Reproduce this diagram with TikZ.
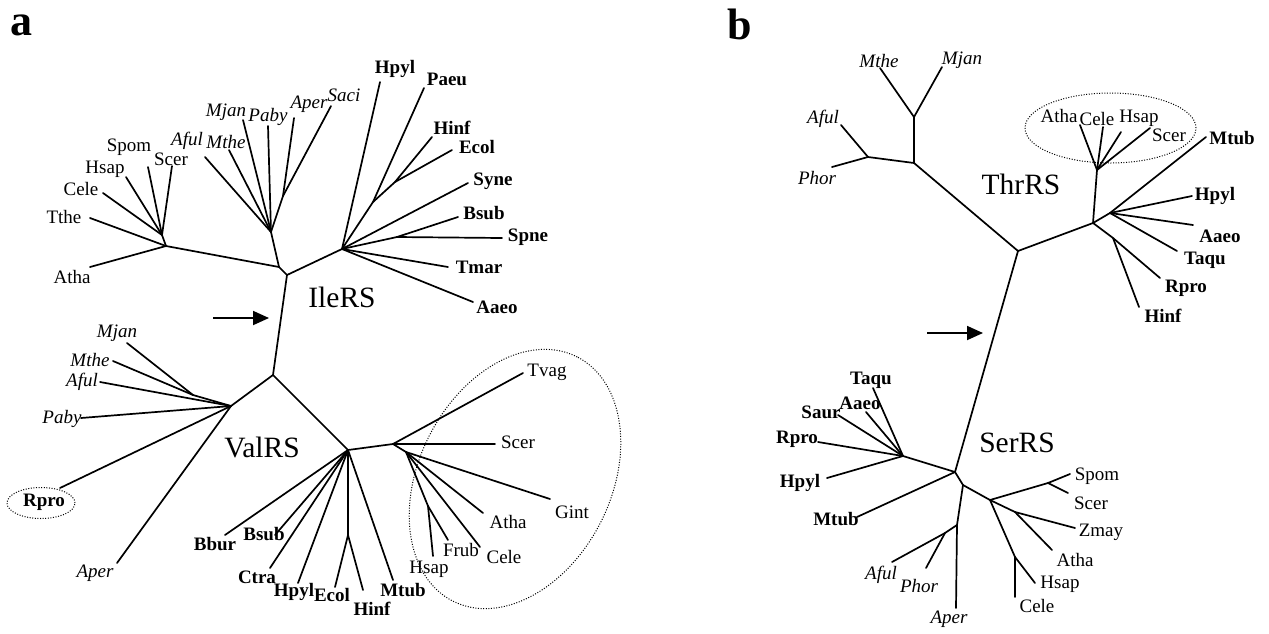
\documentclass[tikz,border=0pt]{standalone}
\usepackage{fontspec}
\setmainfont{Liberation Serif}
\usetikzlibrary{arrows.meta}
\begin{document}
\begin{tikzpicture}[x=1pt,y=-1pt,
  br/.style={line width=1.7pt, line cap=round, line join=round},
  tx/.style={inner sep=0pt, font=\fontsize{19}{21}\selectfont},
  bac/.style={inner sep=0pt, font=\fontsize{19}{21}\selectfont\bfseries},
  arc/.style={inner sep=0pt, font=\fontsize{19}{21}\selectfont\itshape},
  fam/.style={inner sep=0pt, font=\fontsize{29.5}{32}\selectfont},
  panel/.style={inner sep=0pt, font=\fontsize{44}{48}\selectfont\bfseries},
  grp/.style={line width=1pt, dash pattern=on 1pt off 1.6pt},
  pointer/.style={line width=1.8pt, -{Triangle[length=16pt,width=14pt]}}]
\useasboundingbox (0,0) rectangle (1269,633);

% ================= panel a =================
\node[panel] (pa) at (21,25) {a};

% ---- IleRS: internal nodes
\coordinate (iR) at (287,275);
\coordinate (iK) at (279,267);
\coordinate (iE) at (166,246);
\coordinate (iE2) at (162,235);
\coordinate (iA) at (271,232);
\coordinate (iA2) at (283,196);
\coordinate (iB) at (342,249);
\coordinate (iB1) at (373,202);
\coordinate (iB2) at (395,182);
\coordinate (iB3) at (397,237);
% ---- IleRS: tips
\coordinate (iAtha) at (90,267);
\coordinate (iTthe) at (90,218);
\coordinate (iCele) at (103,193);
\coordinate (iHsap) at (126,177);
\coordinate (iSpom) at (148,167);
\coordinate (iScer) at (172,166);
\coordinate (iAful) at (205,157);
\coordinate (iMthe) at (229,150);
\coordinate (iMjan) at (243,120);
\coordinate (iPaby) at (268,126);
\coordinate (iAper) at (294,118);
\coordinate (iSaci) at (331,106);
\coordinate (iHpyl) at (380,82);
\coordinate (iPaeu) at (424,88);
\coordinate (iHinf) at (432,137);
\coordinate (iEcol) at (452,150);
\coordinate (iSyne) at (468,183);
\coordinate (iBsub) at (458,217);
\coordinate (iSpne) at (502,238);
\coordinate (iTmar) at (448,267);
\coordinate (iAaeo) at (473,302);

\draw[br] (iE) -- (iK) -- (iR) -- (iB);
\draw[br] (iA) -- (iK);
\draw[br] (iE) -- (iAtha);
\draw[br] (iE) -- (iTthe);
\draw[br] (iE) -- (iE2);
\foreach \t in {iCele,iHsap,iSpom,iScer} \draw[br] (iE2) -- (\t);
\foreach \t in {iAful,iMthe,iMjan,iPaby} \draw[br] (iA) -- (\t);
\draw[br] (iA) -- (iA2);
\foreach \t in {iAper,iSaci} \draw[br] (iA2) -- (\t);
\draw[br] (iB) -- (iHpyl);
\draw[br] (iB) -- (iB1) -- (iPaeu);
\draw[br] (iB1) -- (iB2);
\foreach \t in {iHinf,iEcol} \draw[br] (iB2) -- (\t);
\draw[br] (iB) -- (iSyne);
\draw[br] (iB) -- (iB3);
\foreach \t in {iBsub,iSpne} \draw[br] (iB3) -- (\t);
\draw[br] (iB) -- (iTmar);
\draw[br] (iB) -- (iAaeo);

\node[tx]  (lSpomA) at (129,147) {Spom};
\node[tx]  (lScerA) at (171,159) {Scer};
\node[tx]  (lHsapA) at (105,169) {Hsap};
\node[tx]  (lCeleA) at (81,189) {Cele};
\node[tx]  (lTtheA) at (64,217) {Tthe};
\node[tx]  (lAthaA) at (72,277) {Atha};
\node[arc] (lAfulA) at (187,141) {Aful};
\node[arc] (lMtheA) at (226,142) {Mthe};
\node[arc] (lMjanA) at (226,112) {Mjan};
\node[arc] (lPabyA) at (268,117) {Paby};
\node[arc] (lAperA) at (309,104) {Aper};
\node[arc] (lSaciA) at (344,95) {Saci};
\node[bac] (lHpylA) at (395,69) {Hpyl};
\node[bac] (lPaeuA) at (447,79) {Paeu};
\node[bac] (lHinfA) at (452,128) {Hinf};
\node[bac] (lEcolA) at (477,147) {Ecol};
\node[bac] (lSyneA) at (493,181) {Syne};
\node[bac] (lBsubA) at (484,213) {Bsub};
\node[bac] (lSpneA) at (528,237) {Spne};
\node[bac] (lTmarA) at (479,267) {Tmar};
\node[bac] (lAaeoA) at (497,307) {Aaeo};
\node[fam] (ile) at (342,297) {IleRS};

% ---- pointer to the root
\coordinate (aArS) at (213,318);
\coordinate (aArE) at (269,318);
\draw[pointer] (aArS) -- (aArE);

% ---- ValRS: internal nodes
\coordinate (vR) at (273,375);
\coordinate (vA) at (231,406);
\coordinate (vMM) at (193,395);
\coordinate (vB) at (348,450);
\coordinate (vE) at (393,444);
\coordinate (vE1) at (406,452);
\coordinate (vHF) at (428,506);
\coordinate (vEH) at (348,535);
% ---- ValRS: tips
\coordinate (vMjan) at (127,343);
\coordinate (vMthe) at (113,361);
\coordinate (vAful) at (100,382);
\coordinate (vPaby) at (81,418);
\coordinate (vRpro) at (60,488);
\coordinate (vAper) at (117,563);
\coordinate (vBbur) at (225,535);
\coordinate (vBsub) at (275,535);
\coordinate (vCtra) at (270,568);
\coordinate (vHpyl) at (298,583);
\coordinate (vEcol) at (335,587);
\coordinate (vHinf) at (363,590);
\coordinate (vMtub) at (393,580);
\coordinate (vTvag) at (523,373);
\coordinate (vScer) at (495,444);
\coordinate (vGint) at (550,499);
\coordinate (vAtha) at (483,513);
\coordinate (vCele) at (480,547);
\coordinate (vFrub) at (448,540);
\coordinate (vHsap) at (433,556);

\draw[br] (iR) -- (vR);
\draw[br] (vA) -- (vR) -- (vB) -- (vE);
\draw[br] (vA) -- (vMM);
\foreach \t in {vMjan,vMthe} \draw[br] (vMM) -- (\t);
\foreach \t in {vAful,vPaby,vRpro,vAper} \draw[br] (vA) -- (\t);
\foreach \t in {vBbur,vBsub,vCtra,vHpyl,vMtub} \draw[br] (vB) -- (\t);
\draw[br] (vB) -- (vEH);
\foreach \t in {vEcol,vHinf} \draw[br] (vEH) -- (\t);
\draw[br] (vE) -- (vTvag);
\draw[br] (vE) -- (vScer);
\draw[br] (vE) -- (vE1);
\foreach \t in {vGint,vAtha,vCele} \draw[br] (vE1) -- (\t);
\draw[br] (vE1) -- (vHF);
\foreach \t in {vFrub,vHsap} \draw[br] (vHF) -- (\t);

\node[arc] (lMjanV) at (117,333) {Mjan};
\node[arc] (lMtheV) at (90,360) {Mthe};
\node[arc] (lAfulV) at (82,382) {Aful};
\node[arc] (lPabyV) at (62,419) {Paby};
\node[bac] (lRproV) at (44,502) {Rpro};
\node[arc] (lAperV) at (95,573) {Aper};
\node[fam] (val) at (262,447) {ValRS};
\node[bac] (lBburV) at (215,544) {Bbur};
\node[bac] (lBsubV) at (264,534) {Bsub};
\node[bac] (lCtraV) at (257,577) {Ctra};
\node[bac] (lHpylV) at (294,592) {Hpyl};
\node[bac] (lEcolV) at (332,595) {Ecol};
\node[bac] (lHinfV) at (372,609) {Hinf};
\node[bac] (lMtubV) at (403,590) {Mtub};
\node[tx]  (lHsapV) at (429,569) {Hsap};
\node[tx]  (lFrubV) at (461,550) {Frub};
\node[tx]  (lCeleV) at (504,557) {Cele};
\node[tx]  (lAthaV) at (508,522) {Atha};
\node[tx]  (lGintV) at (572,512) {Gint};
\node[tx]  (lScerV) at (518,442) {Scer};
\node[tx]  (lTvagV) at (547,372) {Tvag};

% dotted groupings
\draw[grp] (41,503) ellipse [x radius=34pt, y radius=15.5pt];
\draw[grp, rotate around={63:(515,479)}] (515,479) ellipse [x radius=137pt, y radius=96pt];

% ================= panel b =================
\node[panel] (pb) at (740,24) {b};

% ---- ThrRS: internal nodes
\coordinate (tR) at (1018,251);
\coordinate (tA) at (914,163);
\coordinate (tA2) at (914,117);
\coordinate (tAP) at (868,157);
\coordinate (tEB) at (1093,223);
\coordinate (tE) at (1097,170);
\coordinate (tB) at (1110,213);
\coordinate (tH) at (1113,238);
% ---- ThrRS: tips
\coordinate (tMthe) at (880,68);
\coordinate (tMjan) at (942,67);
\coordinate (tAful) at (841,125);
\coordinate (tPhor) at (832,167);
\coordinate (tAtha) at (1080,125);
\coordinate (tCele) at (1103,127);
\coordinate (tHsap) at (1121,132);
\coordinate (tScer) at (1150,128);
\coordinate (tMtub) at (1206,137);
\coordinate (tHpyl) at (1192,196);
\coordinate (tAaeo) at (1193,225);
\coordinate (tTaqu) at (1177,251);
\coordinate (tRpro) at (1160,278);
\coordinate (tHinf) at (1139,307);

\draw[br] (tA) -- (tR) -- (tEB);
\draw[br] (tA) -- (tA2);
\foreach \t in {tMthe,tMjan} \draw[br] (tA2) -- (\t);
\draw[br] (tA) -- (tAP);
\foreach \t in {tAful,tPhor} \draw[br] (tAP) -- (\t);
\draw[br] (tEB) -- (tE);
\foreach \t in {tAtha,tCele,tHsap,tScer} \draw[br] (tE) -- (\t);
\draw[br] (tEB) -- (tB);
\foreach \t in {tMtub,tHpyl,tAaeo,tTaqu} \draw[br] (tB) -- (\t);
\draw[br] (tEB) -- (tH) -- (tRpro);
\draw[br] (tH) -- (tHinf);

\node[arc] (lMtheT) at (879,61) {Mthe};
\node[arc] (lMjanT) at (962,60) {Mjan};
\node[arc] (lAfulT) at (823,119) {Aful};
\node[arc] (lPhorT) at (817,178) {Phor};
\node[tx]  (lAthaT) at (1059,116) {Atha};
\node[tx]  (lCeleT) at (1097,119) {Cele};
\node[tx]  (lHsapT) at (1139,118) {Hsap};
\node[tx]  (lScerT) at (1169,135) {Scer};
\node[bac] (lMtubT) at (1232,138) {Mtub};
\node[bac] (lHpylT) at (1215,196) {Hpyl};
\node[bac] (lAaeoT) at (1220,236) {Aaeo};
\node[bac] (lTaquT) at (1205,260) {Taqu};
\node[bac] (lRproT) at (1186,288) {Rpro};
\node[bac] (lHinfT) at (1163,316) {Hinf};
\node[fam] (thr) at (1021,184) {ThrRS};
\draw[grp] (1110.5,128) ellipse [x radius=85.5pt, y radius=35pt];

% ---- pointer to the root
\coordinate (bArS) at (927,333);
\coordinate (bArE) at (983,333);
\draw[pointer] (bArS) -- (bArE);

% ---- SerRS: internal nodes
\coordinate (sR) at (955,472);
\coordinate (sB) at (903,456);
\coordinate (sK) at (963,485);
\coordinate (sAP) at (957,525);
\coordinate (sAF) at (945,533);
\coordinate (sE) at (990,500);
\coordinate (sSS) at (1048,483);
\coordinate (sZA) at (1015,512);
\coordinate (sHC) at (1015,557);
% ---- SerRS: tips
\coordinate (sTaqu) at (873,388);
\coordinate (sAaeo) at (866,412);
\coordinate (sSaur) at (838,415);
\coordinate (sRpro) at (818,442);
\coordinate (sHpyl) at (827,478);
\coordinate (sMtub) at (857,517);
\coordinate (sAful) at (892,562);
\coordinate (sPhor) at (926,568);
\coordinate (sAper) at (956,608);
\coordinate (sSpom) at (1070,474);
\coordinate (sScer) at (1068,493);
\coordinate (sZmay) at (1075,528);
\coordinate (sAtha) at (1052,550);
\coordinate (sHsap) at (1035,583);
\coordinate (sCele) at (1015,597);

\draw[br] (tR) -- (sR);
\draw[br] (sB) -- (sR) -- (sK) -- (sE);
\foreach \t in {sTaqu,sAaeo,sSaur,sRpro,sHpyl} \draw[br] (sB) -- (\t);
\draw[br] (sR) -- (sMtub);
\draw[br] (sK) -- (sAP) -- (sAper);
\draw[br] (sAP) -- (sAF);
\foreach \t in {sAful,sPhor} \draw[br] (sAF) -- (\t);
\draw[br] (sE) -- (sSS);
\foreach \t in {sSpom,sScer} \draw[br] (sSS) -- (\t);
\draw[br] (sE) -- (sZA);
\foreach \t in {sZmay,sAtha} \draw[br] (sZA) -- (\t);
\draw[br] (sE) -- (sHC);
\foreach \t in {sHsap,sCele} \draw[br] (sHC) -- (\t);

\node[bac] (lTaquS) at (871,380) {Taqu};
\node[bac] (lAaeoS) at (860,403) {Aaeo};
\node[bac] (lSaurS) at (821,412) {Saur};
\node[bac] (lRproS) at (797,439) {Rpro};
\node[bac] (lHpylS) at (800,483) {Hpyl};
\node[bac] (lMtubS) at (836,519) {Mtub};
\node[fam] (ser) at (1017,443) {SerRS};
\node[tx]  (lSpomS) at (1097,476) {Spom};
\node[tx]  (lScerS) at (1091,503) {Scer};
\node[tx]  (lZmayS) at (1101,532) {Zmay};
\node[tx]  (lAthaS) at (1075,560) {Atha};
\node[tx]  (lHsapS) at (1060,584) {Hsap};
\node[tx]  (lCeleS) at (1037,606) {Cele};
\node[arc] (lAfulS) at (881,575) {Aful};
\node[arc] (lPhorS) at (919,586) {Phor};
\node[arc] (lAperS) at (949,619) {Aper};
\end{tikzpicture}
\end{document}
